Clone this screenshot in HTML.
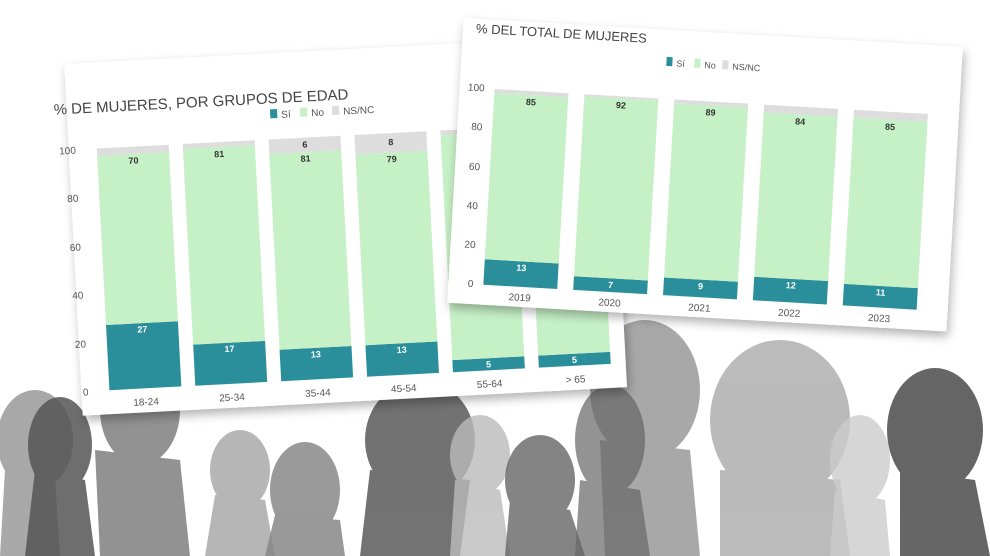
<!DOCTYPE html>
<html><head><meta charset="utf-8"><style>
html,body{margin:0;padding:0;background:#fff;width:990px;height:556px;overflow:hidden}
text{font-family:"Liberation Sans",sans-serif}
</style></head><body>
<svg width="990" height="556" viewBox="0 0 990 556" xmlns="http://www.w3.org/2000/svg">
<defs>
<filter id="sh" x="-10%" y="-10%" width="120%" height="130%"><feDropShadow dx="2" dy="5" stdDeviation="5" flood-color="#000" flood-opacity="0.3"/></filter>
</defs>
<rect width="990" height="556" fill="#fff"/>

<!-- silhouettes -->
<g>
<g fill="#9a9a9a" opacity="0.85">
<ellipse cx="35" cy="440" rx="38" ry="50"/><path d="M5 470 L55 480 L60 556 L0 556Z"/>
</g>
<g fill="#555" opacity="0.85">
<ellipse cx="60" cy="445" rx="32" ry="48"/><path d="M35 470 L85 480 L95 556 L25 556Z"/>
</g>
<g fill="#777" opacity="0.8">
<ellipse cx="140" cy="410" rx="40" ry="55"/><path d="M95 450 L180 460 L190 556 L100 556Z"/>
</g>
<g fill="#aaa" opacity="0.85">
<ellipse cx="240" cy="470" rx="30" ry="40"/><path d="M215 495 L265 500 L275 556 L205 556Z"/>
</g>
<g fill="#888" opacity="0.85">
<ellipse cx="305" cy="490" rx="35" ry="48"/><path d="M275 515 L340 520 L345 556 L265 556Z"/>
</g>
<g fill="#5a5a5a" opacity="0.85">
<ellipse cx="420" cy="440" rx="55" ry="60"/><path d="M370 470 L470 480 L460 556 L360 556Z"/>
</g>
<g fill="#bbb" opacity="0.8">
<ellipse cx="480" cy="455" rx="30" ry="40"/><path d="M455 480 L500 490 L510 556 L450 556Z"/>
</g>
<g fill="#666" opacity="0.8">
<ellipse cx="540" cy="480" rx="35" ry="45"/><path d="M510 500 L570 510 L585 556 L505 556Z"/>
</g>
<g fill="#999" opacity="0.85">
<ellipse cx="645" cy="390" rx="55" ry="70"/><path d="M600 440 L690 450 L700 556 L605 556Z"/>
</g>
<g fill="#666" opacity="0.7">
<ellipse cx="610" cy="440" rx="35" ry="55"/><path d="M580 480 L640 490 L650 556 L575 556Z"/>
</g>
<g fill="#aaa" opacity="0.8">
<ellipse cx="780" cy="420" rx="70" ry="80"/><path d="M720 470 L840 480 L850 556 L720 556Z"/>
</g>
<g fill="#ccc" opacity="0.8">
<ellipse cx="860" cy="460" rx="30" ry="45"/><path d="M835 490 L885 500 L890 556 L830 556Z"/>
</g>
<g fill="#555" opacity="0.9">
<ellipse cx="935" cy="430" rx="48" ry="62"/><path d="M900 470 L975 480 L990 556 L900 556Z"/>
</g>
</g>

<!-- left card -->
<g transform="translate(8,-12) rotate(-3 330 235)">
<rect x="65" y="62" width="545" height="352" fill="#fff" filter="url(#sh)"/>
<text x="52" y="112" font-size="15" fill="#444">% DE MUJERES, POR GRUPOS DE EDAD</text>
<rect x="268" y="118" width="7" height="9" fill="#2a8f9b"/><text x="279" y="127" font-size="10" fill="#555">Sí</text>
<rect x="298" y="118" width="7" height="9" fill="#c6f0c6"/><text x="309" y="127" font-size="10" fill="#555">No</text>
<rect x="330" y="118" width="7" height="9" fill="#ddd"/><text x="341" y="127" font-size="10" fill="#555">NS/NC</text>
<g font-size="10" fill="#555" text-anchor="end">
<text x="72" y="394">0</text><text x="72" y="346">20</text><text x="72" y="297">40</text><text x="72" y="249">60</text><text x="72" y="200">80</text><text x="72" y="152">100</text>
</g>
<g font-size="9" font-weight="bold" text-anchor="middle">
<rect x="93" y="324.7" width="72" height="65.3" fill="#2a8f9b"/><rect x="93" y="155.3" width="72" height="169.4" fill="#c6f0c6"/><rect x="93" y="148" width="72" height="7.3" fill="#ddd"/>
<text x="129" y="334" fill="#fff">27</text><text x="129" y="165" fill="#333">70</text>
<rect x="179" y="348.9" width="72" height="41.1" fill="#2a8f9b"/><rect x="179" y="152.8" width="72" height="196.1" fill="#c6f0c6"/><rect x="179" y="148" width="72" height="4.8" fill="#ddd"/>
<text x="215" y="358" fill="#fff">17</text><text x="215" y="163" fill="#333">81</text>
<rect x="265" y="358.5" width="72" height="31.5" fill="#2a8f9b"/><rect x="265" y="162.5" width="72" height="196" fill="#c6f0c6"/><rect x="265" y="148" width="72" height="14.5" fill="#ddd"/>
<text x="301" y="368" fill="#fff">13</text><text x="301" y="172" fill="#333">81</text><text x="301" y="158" fill="#333">6</text>
<rect x="351" y="358.5" width="72" height="31.5" fill="#2a8f9b"/><rect x="351" y="167.4" width="72" height="191.1" fill="#c6f0c6"/><rect x="351" y="148" width="72" height="19.4" fill="#ddd"/>
<text x="387" y="368" fill="#fff">13</text><text x="387" y="177" fill="#333">79</text><text x="387" y="160" fill="#333">8</text>
<rect x="437" y="377.9" width="72" height="12.1" fill="#2a8f9b"/><rect x="437" y="152.8" width="72" height="225.1" fill="#c6f0c6"/><rect x="437" y="148" width="72" height="4.8" fill="#ddd"/>
<text x="473" y="387" fill="#fff">5</text>
<rect x="523" y="377.9" width="72" height="12.1" fill="#2a8f9b"/><rect x="523" y="152.8" width="72" height="225.1" fill="#c6f0c6"/>
<text x="559" y="387" fill="#fff">5</text>
</g>
<g font-size="10" fill="#555" text-anchor="middle">
<text x="129" y="407">18-24</text><text x="215" y="407">25-34</text><text x="301" y="407">35-44</text><text x="387" y="407">45-54</text><text x="473" y="407">55-64</text><text x="559" y="407">&gt; 65</text>
</g>
</g>

<!-- right card -->
<g transform="rotate(3.3 700 175)">
<rect x="455" y="32" width="500" height="285" fill="#fff" filter="url(#sh)"/>
<text x="468" y="46" font-size="13" fill="#444">% DEL TOTAL DE MUJERES</text>
<rect x="660" y="59" width="6" height="9" fill="#2a8f9b"/><text x="670" y="68" font-size="9" fill="#555">Sí</text>
<rect x="688" y="59" width="6" height="9" fill="#c6f0c6"/><text x="698" y="68" font-size="9" fill="#555">No</text>
<rect x="716" y="59" width="6" height="9" fill="#ddd"/><text x="726" y="68" font-size="9" fill="#555">NS/NC</text>
<g font-size="10" fill="#555" text-anchor="end">
<text x="480" y="300">0</text><text x="480" y="261">20</text><text x="480" y="222">40</text><text x="480" y="183">60</text><text x="480" y="143">80</text><text x="480" y="104">100</text>
</g>
<!-- zero y=297, scale 1.96 -->
<g font-size="9" font-weight="bold" text-anchor="middle">
<rect x="490" y="271.5" width="74" height="25.5" fill="#2a8f9b"/><rect x="490" y="104.9" width="74" height="166.6" fill="#c6f0c6"/><rect x="490" y="101" width="74" height="3.9" fill="#ddd"/>
<text x="527" y="281" fill="#fff">13</text><text x="527" y="115" fill="#333">85</text>
<rect x="580" y="283.3" width="74" height="13.7" fill="#2a8f9b"/><rect x="580" y="103" width="74" height="180.3" fill="#c6f0c6"/><rect x="580" y="101" width="74" height="2" fill="#ddd"/>
<text x="617" y="293" fill="#fff">7</text><text x="617" y="113" fill="#333">92</text>
<rect x="670" y="279.4" width="74" height="17.6" fill="#2a8f9b"/><rect x="670" y="104.9" width="74" height="174.5" fill="#c6f0c6"/><rect x="670" y="101" width="74" height="3.9" fill="#ddd"/>
<text x="707" y="289" fill="#fff">9</text><text x="707" y="115" fill="#333">89</text>
<rect x="760" y="273.5" width="74" height="23.5" fill="#2a8f9b"/><rect x="760" y="108.8" width="74" height="164.7" fill="#c6f0c6"/><rect x="760" y="101" width="74" height="7.8" fill="#ddd"/>
<text x="797" y="283" fill="#fff">12</text><text x="797" y="119" fill="#333">84</text>
<rect x="850" y="275.4" width="74" height="21.6" fill="#2a8f9b"/><rect x="850" y="108.8" width="74" height="166.6" fill="#c6f0c6"/><rect x="850" y="101" width="74" height="7.8" fill="#ddd"/>
<text x="887" y="285" fill="#fff">11</text><text x="887" y="119" fill="#333">85</text>
</g>
<g font-size="10" fill="#555" text-anchor="middle">
<text x="527" y="311">2019</text><text x="617" y="311">2020</text><text x="707" y="311">2021</text><text x="797" y="311">2022</text><text x="887" y="311">2023</text>
</g>
</g>
</svg>
</body></html>
